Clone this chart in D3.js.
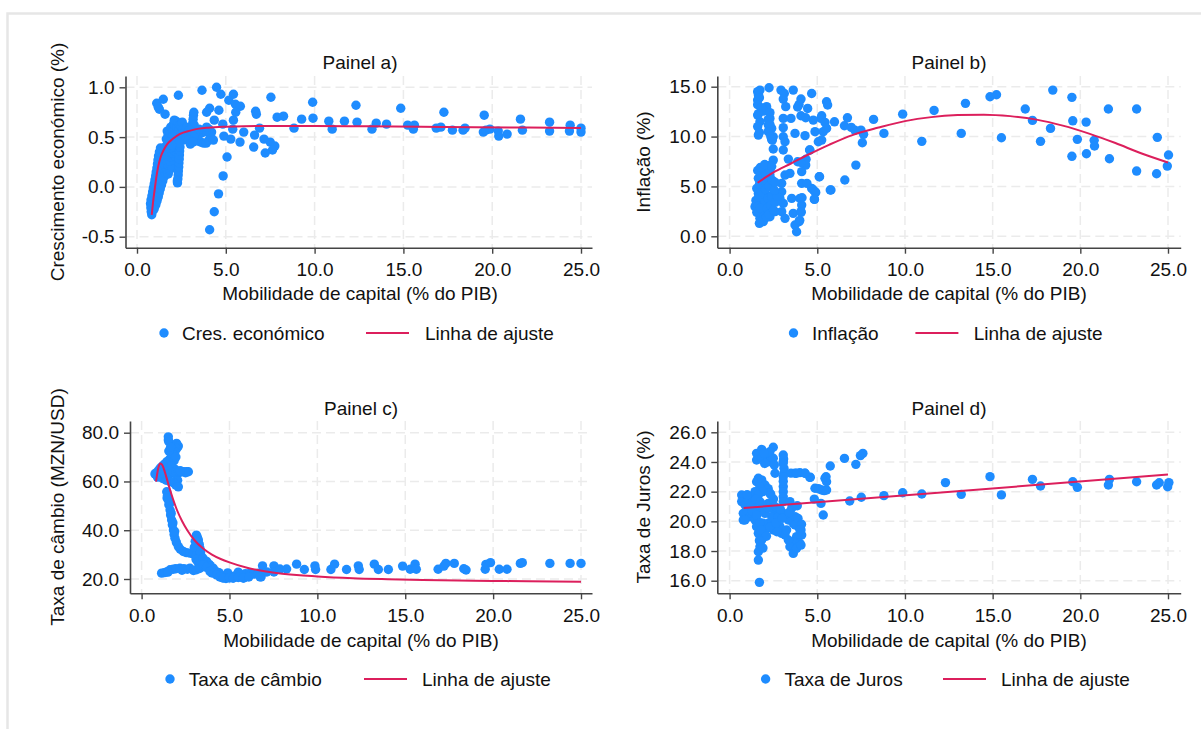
<!DOCTYPE html>
<html lang="pt">
<head>
<meta charset="UTF-8">
<title>Mobilidade de capital</title>
<script src="https://d3js.org/d3.v7.min.js"></script>
<style>
  body { margin: 0; background: #fff; }
  text { font-family: "Liberation Sans", Arial, sans-serif; fill: #111; }
</style>
</head>
<body>
<div id="chart"></div>
<script>
// Shared axis ticks
const xTicks = [0, 5, 10, 15, 20, 25];
const xLabel = "Mobilidade de capital (% do PIB)";
const fitLabel = "Linha de ajuste";

// Painel a) - crescimento económico
const ptsA = [
  [0.83,-0.28],[0.80,-0.25],[0.89,-0.24],[0.78,-0.21],[0.87,-0.20],[0.97,-0.22],[0.76,-0.17],[0.85,-0.16],
  [0.95,-0.17],[1.06,-0.18],[0.79,-0.13],[0.91,-0.12],[1.02,-0.13],[1.13,-0.14],[0.84,-0.09],[0.96,-0.08],
  [1.08,-0.09],[1.20,-0.10],[0.88,-0.05],[1.00,-0.04],[1.12,-0.05],[1.25,-0.06],[0.92,-0.01],[1.05,0.00],
  [1.18,-0.01],[1.31,-0.02],[0.97,0.03],[1.10,0.04],[1.24,0.03],[1.38,0.02],[1.01,0.07],[1.15,0.08],
  [1.30,0.07],[1.45,0.06],[1.05,0.11],[1.20,0.12],[1.36,0.11],[1.52,0.10],[1.08,0.15],[1.25,0.16],
  [1.42,0.15],[1.60,0.14],[1.76,0.13],[1.12,0.19],[1.30,0.20],[1.48,0.19],[1.67,0.18],[1.84,0.17],
  [1.15,0.23],[1.35,0.24],[1.55,0.23],[1.75,0.22],[1.94,0.21],[1.18,0.27],[1.40,0.28],[1.62,0.27],
  [1.84,0.26],[2.05,0.27],[1.21,0.31],[1.45,0.32],[1.70,0.31],[1.92,0.30],[2.12,0.31],[1.26,0.35],
  [1.52,0.36],[1.78,0.35],[2.00,0.34],[2.14,0.36],[1.32,0.39],[1.58,0.40],[1.85,0.39],[2.08,0.40],
  [2.28,0.04],[2.30,0.08],[2.32,0.12],[2.33,0.16],[2.35,0.20],[2.36,0.24],[2.38,0.28],[2.39,0.32],
  [2.40,0.36],[2.42,0.40],[2.27,0.06],
  [3.05,0.47],[3.08,0.52],[3.10,0.56],[3.12,0.60],[3.14,0.64],[3.16,0.68],[3.18,0.72],[3.20,0.75],
  [3.02,0.50],[3.22,0.62],
  [1.65,0.48],[1.75,0.52],[1.70,0.56],[1.85,0.55],[1.90,0.60],[2.00,0.58],[2.05,0.63],[2.10,0.67],
  [2.15,0.62],[2.20,0.66],[2.25,0.60],[2.30,0.64],[2.35,0.57],[2.40,0.62],[2.50,0.60],[2.55,0.65],
  [2.60,0.58],[2.70,0.55],[2.80,0.60],[2.85,0.53],[2.95,0.57],[2.20,0.52],[2.00,0.50],[2.45,0.50],
  [2.60,0.47],[2.75,0.48],[1.80,0.45],[2.15,0.45],[2.35,0.44],[1.95,0.42],
  [3.30,0.48],[3.45,0.46],[3.60,0.45],[3.75,0.44],[3.90,0.44],[4.05,0.47],[4.15,0.51],[4.20,0.55],
  [4.05,0.58],[3.90,0.56],[3.75,0.55],[3.60,0.54],[3.45,0.52],[3.30,0.55],[3.20,0.50],[3.50,0.58],
  [2.90,0.47],[3.00,0.43],[3.15,0.45],[4.30,0.47],
  [1.11,0.84],[1.48,0.88],[2.33,0.92],[1.26,0.78],[1.58,0.73],[1.20,0.80],
  [3.66,0.97],[4.48,1.00],[4.72,0.93],[5.43,0.93],[5.17,0.87],[5.54,0.83],[5.82,0.81],[7.54,0.90],
  [4.09,0.79],[4.61,0.77],[3.92,0.75],[5.56,0.75],[6.68,0.76],[6.72,0.73],[4.35,0.67],[5.43,0.67],
  [4.83,0.63],[3.92,0.60],[5.39,0.58],[6.90,0.59],[6.01,0.55],[4.89,0.51],[5.28,0.48],[6.62,0.52],
  [7.15,0.48],[7.50,0.45],[7.76,0.41],[7.63,0.37],[5.80,0.45],[6.57,0.40],[7.22,0.34],[5.07,0.30],
  [4.85,0.11],[4.59,-0.07],[4.35,-0.25],[4.09,-0.43],[7.89,0.70],[8.25,0.71],[8.84,0.59],[9.27,0.68],
  [9.89,0.85],[9.91,0.69],[10.80,0.66],[10.99,0.58],[11.68,0.66],[12.33,0.82],[12.39,0.65],[13.23,0.58],
  [13.47,0.64],[14.05,0.63],[14.85,0.79],[15.24,0.62],[15.56,0.58],[15.62,0.62],[16.85,0.59],[17.11,0.60],
  [17.28,0.75],[17.76,0.57],[18.36,0.57],[18.47,0.59],[19.55,0.72],[19.50,0.55],[19.65,0.57],[19.87,0.58],
  [20.34,0.56],[20.37,0.51],[20.84,0.53],[21.59,0.68],[21.70,0.57],[23.23,0.65],[23.23,0.56],[24.39,0.62],
  [24.35,0.56],[25.00,0.59],[25.00,0.55]
];
const fitA = [
  [0.83,-0.28],[0.90,-0.16],[1.00,-0.02],[1.10,0.11],[1.20,0.21],[1.35,0.31],[1.50,0.37],[1.70,0.43],
  [2.00,0.48],[2.40,0.53],[3.00,0.565],[3.50,0.585],[4.00,0.595],[5.00,0.605],[6.00,0.61],[8.00,0.612],
  [10.0,0.612],[13.0,0.608],[16.0,0.604],[19.0,0.60],[22.0,0.596],[25.0,0.592]
];
const yTicksA = [-0.5, 0, 0.5, 1.0];

// Painel b) - inflação
const ptsB = [
  [1.73,14.66],[2.25,14.89],[1.64,14.16],[1.60,13.66],[2.93,14.66],[3.12,14.32],[3.63,14.66],[4.68,14.32],
  [3.06,13.76],[4.07,13.76],[3.96,13.22],[3.88,12.96],[4.45,12.82],[5.53,13.49],[5.59,13.16],[3.20,13.00],
  [2.11,13.00],[1.83,12.82],[1.98,12.56],[1.60,12.15],[2.30,11.82],[3.06,11.82],[3.50,11.82],[4.07,12.09],
  [4.34,11.89],[5.25,12.09],[5.21,11.82],[4.77,11.65],[5.44,11.42],[1.73,11.49],[2.21,11.15],[2.40,10.82],
  [3.06,10.89],[3.73,10.32],[4.30,10.09],[4.87,10.49],[5.34,10.49],[5.53,10.82],[1.64,10.15],[2.49,9.98],
  [3.06,9.98],[2.44,9.65],[3.16,9.48],[5.25,9.65],[5.06,9.48],[4.58,8.65],[3.06,8.65],[2.49,8.75],
  [3.35,7.74],[3.88,7.48],[4.30,7.64],[4.34,7.14],[4.11,6.48],[2.49,7.64],[2.21,7.08],[2.02,6.81],
  [1.73,6.41],[2.30,6.14],[1.64,5.81],[2.02,5.47],[2.40,5.14],[2.97,5.31],[3.16,6.14],[3.44,6.31],
  [4.11,5.31],[4.68,4.80],[4.87,4.47],[5.11,5.97],[5.78,4.64],[1.83,4.80],[1.64,4.30],[2.11,4.14],
  [1.83,3.63],[1.54,3.30],[2.02,3.13],[1.64,2.63],[2.21,2.47],[1.83,2.13],[1.92,1.47],[2.97,4.47],
  [2.87,3.80],[3.06,3.30],[2.97,2.47],[3.16,1.80],[3.54,3.80],[4.01,3.80],[4.11,3.13],[3.63,2.30],
  [4.07,2.47],[3.73,1.13],[3.82,0.46],[3.96,1.47],[4.83,3.73],[2.49,3.80],[2.59,2.47],[1.45,2.97],
  [1.73,1.80],[2.30,1.96],
  [1.55,4.80],[1.70,5.20],[1.90,5.60],[2.10,6.00],[2.30,6.60],[1.60,6.60],[1.75,6.90],[2.00,7.20],
  [2.40,7.00],[1.50,3.60],[1.65,3.90],[1.85,4.40],[2.05,4.70],[2.25,5.00],[2.45,5.60],[1.60,3.00],
  [1.80,2.60],[2.00,3.40],[2.20,3.80],[2.40,4.00],[1.55,2.40],[1.75,2.80],[1.95,2.00],[2.15,2.80],
  [2.35,3.10],[1.70,1.30],[1.90,1.60],[2.10,1.90],[2.25,2.20],[2.50,2.60],[2.60,3.40],[2.70,4.00],
  [2.55,4.60],[2.60,5.40],
  [1.60,14.50],[1.70,13.90],[1.60,13.20],[1.80,12.90],[1.65,12.30],[1.60,11.00],[1.70,10.40],[2.30,12.40],
  [2.20,11.70],[2.30,11.20],[2.20,10.50],[2.35,10.00],[2.40,9.70],
  [4.78,4.64],[4.91,4.40],[4.41,5.31],[4.13,3.87],[4.08,2.40],[4.00,1.60],[4.84,3.70],[5.74,4.64],
  [5.13,5.97],[4.56,8.65],[4.36,7.72],[4.07,7.40],
  [5.98,11.48],[6.72,11.88],[6.55,11.08],[6.94,10.92],[7.14,10.65],[7.49,10.65],[7.64,10.22],[7.57,9.38],
  [7.20,7.14],[6.57,5.64],[8.21,11.72],[8.80,10.32],[9.87,12.25],[10.96,9.52],[11.66,12.62],[13.45,13.33],
  [13.21,10.32],[14.85,13.99],[15.22,14.19],[15.50,9.88],[16.86,12.76],[17.27,11.62],[17.73,9.52],[18.30,10.82],
  [18.43,14.66],[19.52,13.93],[19.57,11.58],[19.52,8.02],[19.83,9.72],[20.33,11.45],[20.35,8.28],[20.79,9.62],
  [20.81,9.05],[21.60,12.76],[21.66,7.78],[23.21,12.76],[23.21,6.54],[24.39,9.92],[24.35,6.27],[25.03,8.15],
  [24.96,7.04]
];
const fitB = [
  [1.6,5.37],[2.5,6.4],[3.5,7.3],[4.5,8.2],[5.7,9.2],[7.0,10.15],[8.5,10.9],[10.0,11.55],[11.5,11.95],
  [13.0,12.15],[14.5,12.2],[16.0,12.05],[17.5,11.7],[19.0,11.1],[20.5,10.3],[22.0,9.35],[23.5,8.3],[25.0,7.4]
];
const yTicksB = [0, 5, 10, 15];

// Painel c) - taxa de câmbio
const ptsC = [
  [1.52,78.3],[1.52,77.0],[1.55,76.3],[1.99,75.6],[2.09,74.5],[2.00,73.5],[1.90,72.2],[1.80,71.0],
  [1.71,70.2],[1.60,69.2],[1.43,68.1],[1.35,67.3],[1.24,66.7],[1.15,66.0],[1.05,65.4],[0.95,64.4],
  [0.85,63.6],[0.76,63.1],[1.55,72.5],[1.65,74.0],[1.85,68.5],[1.95,70.0],[1.30,64.8],[1.10,62.5],
  [0.90,61.8],[1.20,61.2],[1.40,62.0],[1.60,63.0],[1.75,64.5],[1.50,65.5],[1.70,66.5],[1.90,65.0],
  [2.00,62.5],[2.05,60.5],[1.95,58.5],[1.80,59.5],[1.60,60.0],[1.40,60.5],[1.30,63.2],[2.09,57.8],
  [1.15,63.6],[1.80,64.0],[1.95,64.1],[2.10,64.0],[2.25,63.9],[2.40,64.0],[2.55,64.0],[2.66,64.0],
  [2.50,63.6],[2.20,64.4],
  [1.43,55.8],[1.47,54.2],[1.52,52.4],[1.55,50.5],[1.62,48.3],[1.65,46.2],[1.71,44.2],[1.75,42.2],
  [1.81,40.1],[1.85,38.3],[1.90,36.7],[1.98,35.0],[2.09,33.3],[2.20,32.2],[2.37,31.3],[2.55,30.8],
  [2.75,30.6],[2.95,30.2],[3.12,29.9],[3.30,29.5],[3.40,29.2],[1.60,51.0],[1.68,47.0],[1.78,43.0],
  [1.88,39.5],[1.45,53.2],
  [3.12,38.0],[3.18,37.0],[3.23,36.0],[3.28,34.2],[3.32,32.6],[3.05,35.5],[3.00,33.0],[3.35,31.0],
  [3.10,28.0],[3.20,27.0],
  [3.50,28.5],[3.70,27.2],[3.85,26.0],[4.08,24.4],[4.25,23.0],[4.46,21.7],[4.70,21.2],[5.03,21.0],
  [5.30,21.3],[5.60,21.7],[5.90,22.2],[6.17,22.4],[6.40,22.0],[6.64,22.4],[4.90,22.5],[5.50,22.8],
  [4.40,22.6],[4.60,20.5],[5.20,20.4],[5.80,20.4],[6.00,21.0],[4.00,22.5],[3.90,25.5],[3.60,25.0],
  [3.30,25.8],[6.80,20.9],[4.80,20.2],
  [1.14,22.4],[1.30,22.6],[1.45,23.0],[1.62,23.8],[1.80,24.0],[1.95,24.2],[2.18,24.4],[2.40,24.2],
  [2.60,24.0],[2.75,24.4],[2.95,23.5],[3.12,23.8],[3.30,24.3],[3.51,25.8],[3.70,24.8],[3.89,23.1],
  [4.10,22.4],[4.27,21.7],[4.45,20.8],[4.65,20.4],[5.00,20.4],[5.22,20.4],[5.50,20.6],[5.79,20.4],
  [6.10,20.8],[2.30,23.6],[1.50,22.8],
  [6.88,25.4],[7.12,22.9],[7.53,25.4],[7.53,22.9],[7.87,24.1],[8.25,24.1],[8.82,26.1],[9.26,23.9],
  [9.86,25.4],[9.90,23.9],[10.77,23.9],[10.98,26.1],[11.66,23.9],[12.33,25.4],[12.38,23.9],[13.24,26.1],
  [13.47,23.9],[14.04,23.9],[14.85,25.3],[15.28,24.0],[15.56,26.1],[15.63,24.0],[16.87,24.0],[17.20,25.3],
  [17.31,26.4],[17.79,26.4],[18.33,24.2],[18.46,23.7],[19.55,24.0],[19.59,26.0],[19.85,26.7],[20.35,24.0],
  [20.79,24.0],[21.55,26.4],[21.66,26.7],[23.23,26.4],[24.38,26.4],[25.00,26.4],[6.74,20.9]
];
const fitC = [
  [0.82,59.9],[0.95,65.5],[1.05,67.4],[1.15,67.0],[1.25,65.5],[1.40,62.0],[1.60,57.0],[1.80,52.5],
  [2.00,48.5],[2.30,43.8],[2.60,40.0],[3.00,36.0],[3.50,32.5],[4.00,30.0],[4.50,28.2],[5.00,26.8],
  [6.00,24.6],[7.00,23.2],[8.00,22.2],[9.00,21.5],[10.0,21.0],[12.0,20.3],[14.0,19.9],[16.0,19.6],
  [18.0,19.4],[20.0,19.2],[22.0,19.05],[25.0,18.9]
];
const yTicksC = [20, 40, 60, 80];

// Painel d) - taxa de juros
const ptsD = [
  [1.54,24.58],[1.83,24.85],[1.54,24.13],[2.11,24.40],[2.49,24.99],[2.30,24.70],[2.21,24.02],[2.49,24.25],
  [2.55,23.80],[2.59,23.24],[3.06,24.47],[3.06,24.02],[3.10,23.58],[3.10,23.24],[1.83,24.25],[1.95,24.60],
  [2.00,23.90],[3.08,24.20],[3.05,23.90],
  [1.64,22.90],[1.54,22.67],[1.83,22.79],[2.02,22.45],[2.11,22.11],[1.73,22.34],[3.06,22.34],[3.06,22.00],
  [3.06,21.66],[3.06,21.33],[3.73,23.24],[4.01,23.28],[4.30,23.24],[4.58,22.96],[3.50,23.25],[2.20,22.20],
  [2.30,21.90],[1.90,22.00],[3.06,22.70],[3.06,23.00],
  [0.69,21.77],[0.69,21.33],[0.88,21.10],[0.78,20.54],[0.78,20.09],[0.97,20.76],[1.07,21.44],[1.26,21.66],
  [1.45,22.00],[1.64,21.77],[1.35,21.21],[1.16,20.32],[0.88,20.09],[1.45,20.09],[1.64,20.65],[1.20,21.00],
  [1.50,21.50],[1.00,21.80],[1.75,21.30],[1.90,21.00],[2.00,20.80],[2.20,21.20],[2.40,20.90],[2.60,20.60],
  [2.50,21.50],[2.35,21.80],[1.30,20.70],[1.55,20.40],
  [1.54,19.64],[1.64,19.19],[1.83,18.74],[1.73,18.29],[1.64,17.95],[2.02,19.42],[2.21,19.87],[2.40,20.32],
  [2.49,19.42],[2.59,20.99],[2.78,20.32],[2.87,19.64],[2.97,19.19],[3.16,19.08],[2.02,20.54],[2.21,20.88],
  [1.83,21.10],[1.92,19.87],[1.64,17.39],[1.70,15.89],[1.75,19.90],[1.80,19.40],[2.10,19.00],[2.30,19.60],
  [2.65,19.90],[2.70,19.30],[1.90,18.20],[1.70,18.70],
  [3.35,20.09],[3.63,19.87],[3.73,20.32],[3.92,19.64],[4.07,19.42],[4.11,19.08],[3.82,18.97],[3.63,18.63],
  [3.44,18.29],[3.63,17.84],[3.82,18.18],[4.01,18.52],[3.35,18.74],[3.25,19.42],[3.54,20.88],[3.44,21.33],
  [3.73,19.76],[3.90,20.20],[4.10,19.80],[3.20,20.50],[2.90,20.80],[3.00,20.20],[3.40,20.60],[3.86,21.05],
  [4.01,19.42],[4.07,18.40],
  [4.83,21.50],[5.21,21.21],[5.34,20.43],[4.87,22.23],[5.25,22.11],[5.53,22.11],[5.44,22.90],[5.53,22.67],
  [5.74,23.73],[5.50,23.00],[4.60,22.97],[4.30,23.24],[3.82,23.24],[5.39,22.07],[5.07,22.20],
  [6.55,24.24],[7.20,23.84],[7.46,24.43],[7.60,24.58],[6.85,21.37],[7.51,21.62],[8.80,21.73],[9.87,21.93],
  [10.96,21.84],[12.31,22.61],[13.21,21.82],[14.85,23.01],[15.50,21.78],[17.27,22.83],[17.73,22.38],[19.57,22.67],
  [19.83,22.29],[21.60,22.45],[21.66,22.83],[23.21,22.67],[24.35,22.45],[24.50,22.60],[24.98,22.33],[25.05,22.61]
];
const fitD = [[0.8,20.9],[25.0,23.15]];
const yTicksD = [16, 18, 20, 22, 24, 26];

const titles = ["Painel a)", "Painel b)", "Painel c)", "Painel d)"];
const yLabels = ["Crescimento económico (%)", "Inflação (%)", "Taxa de câmbio (MZN/USD)", "Taxa de Juros (%)"];
const seriesLabels = ["Cres. económico", "Inflação", "Taxa de câmbio", "Taxa de Juros"];

// Layout of each panel (pixels)
const layout = [
  { left: 125.5, right: 592, top: 76, bottom: 247.7, x0: 137, x25: 581, yA: [-0.5, 236.7], yB: [1.0, 87.3],
    cx: 360, titleY: 69, xlabY: 300, ylabX: 63.5, ylabY: 162, legY: 333, mk: 164, t1: 182, l1: 366, l2: 409, t2: 425 },
  { left: 717.3, right: 1180.7, top: 76, bottom: 247.7, x0: 729.6, x25: 1168, yA: [0, 236.3], yB: [15, 86.7],
    cx: 949, titleY: 69, xlabY: 300, ylabX: 650, ylabY: 162, legY: 333, mk: 793.5, t1: 812, l1: 915.4, l2: 958.4, t2: 973.7 },
  { left: 130, right: 592, top: 421, bottom: 593.3, x0: 141.6, x25: 581, yA: [20, 579], yB: [80, 432.7],
    cx: 361, titleY: 415, xlabY: 646.5, ylabX: 64, ylabY: 507, legY: 679, mk: 170, t1: 188.7, l1: 364, l2: 407, t2: 422 },
  { left: 717.3, right: 1180.7, top: 421, bottom: 593.3, x0: 729.6, x25: 1168, yA: [16, 580.7], yB: [26, 432.3],
    cx: 949, titleY: 415, xlabY: 646.5, ylabX: 650, ylabY: 507, legY: 679, mk: 765.6, t1: 784.4, l1: 943, l2: 986, t2: 1001 }
];

const panels = [
  { pts: ptsA, fit: fitA, yTicks: yTicksA },
  { pts: ptsB, fit: fitB, yTicks: yTicksB },
  { pts: ptsC, fit: fitC, yTicks: yTicksC },
  { pts: ptsD, fit: fitD, yTicks: yTicksD }
];

const dotColor = "#1e8cff";
const fitColor = "#dc1f5c";
const gridColor = "#ebebeb";
const axisColor = "#444";
const fontSize = "19px";

const svg = d3.select("#chart").append("svg")
  .attr("width", 1201)
  .attr("height", 729);

svg.append("rect")
  .attr("x", 7.5).attr("y", 13.5)
  .attr("width", 1205).attr("height", 730)
  .attr("fill", "none")
  .attr("stroke", "#e6e6e6")
  .attr("stroke-width", 2.5);

// scale stretched so the axis line runs past the outer ticks
function extScale(d0, d1, r0, r1, e0, e1) {
  const s = d3.scaleLinear().domain([d0, d1]).range([r0, r1]);
  return d3.scaleLinear().domain([s.invert(e0), s.invert(e1)]).range([e0, e1]);
}

panels.forEach((p, i) => {
  const L = layout[i];
  const x = extScale(0, 25, L.x0, L.x25, L.left, L.right);
  const y = extScale(L.yA[0], L.yB[0], L.yA[1], L.yB[1], L.bottom, L.top);
  const g = svg.append("g");

  // dashed grid
  g.selectAll(".hg").data(p.yTicks).enter().append("line")
    .attr("x1", L.left).attr("x2", L.right)
    .attr("y1", d => y(d)).attr("y2", d => y(d))
    .attr("stroke", gridColor).attr("stroke-width", 1.5)
    .attr("stroke-dasharray", "9,5");
  g.selectAll(".vg").data(xTicks).enter().append("line")
    .attr("y1", L.top).attr("y2", L.bottom)
    .attr("x1", d => x(d)).attr("x2", d => x(d))
    .attr("stroke", gridColor).attr("stroke-width", 1.5)
    .attr("stroke-dasharray", "9,5");

  // points
  g.selectAll("circle.pt").data(p.pts).enter().append("circle")
    .attr("cx", d => x(d[0]))
    .attr("cy", d => y(d[1]))
    .attr("r", 4.7)
    .attr("fill", dotColor);

  // fitted line
  g.append("path")
    .datum(p.fit)
    .attr("fill", "none")
    .attr("stroke", fitColor)
    .attr("stroke-width", 2)
    .attr("d", d3.line().x(d => x(d[0])).y(d => y(d[1])).curve(d3.curveMonotoneX));

  // axes
  const xAxis = g.append("g")
    .attr("transform", `translate(0,${L.bottom})`)
    .call(d3.axisBottom(x).tickValues(xTicks).tickFormat(d => d.toFixed(1))
      .tickSize(6).tickSizeOuter(0).tickPadding(9));
  const yAxis = g.append("g")
    .attr("transform", `translate(${L.left},0)`)
    .call(d3.axisLeft(y).tickValues(p.yTicks).tickFormat(d => d.toFixed(1))
      .tickSize(6).tickSizeOuter(0).tickPadding(5));
  [xAxis, yAxis].forEach(a => {
    a.select(".domain").attr("stroke", axisColor).attr("stroke-width", 1.6);
    a.selectAll(".tick line").attr("stroke", axisColor).attr("stroke-width", 1.4);
    a.selectAll(".tick text").style("font-size", fontSize)
      .style("font-family", '"Liberation Sans", Arial, sans-serif').attr("fill", "#111");
  });

  // titles
  g.append("text").attr("x", L.cx).attr("y", L.titleY)
    .attr("text-anchor", "middle").style("font-size", fontSize).text(titles[i]);
  g.append("text").attr("x", L.cx).attr("y", L.xlabY)
    .attr("text-anchor", "middle").style("font-size", fontSize).text(xLabel);
  g.append("text")
    .attr("transform", `translate(${L.ylabX},${L.ylabY}) rotate(-90)`)
    .attr("text-anchor", "middle").style("font-size", fontSize).text(yLabels[i]);

  // legend
  g.append("circle").attr("cx", L.mk).attr("cy", L.legY).attr("r", 4.7).attr("fill", dotColor);
  g.append("text").attr("x", L.t1).attr("y", L.legY + 6.5)
    .style("font-size", fontSize).text(seriesLabels[i]);
  g.append("line").attr("x1", L.l1).attr("x2", L.l2).attr("y1", L.legY).attr("y2", L.legY)
    .attr("stroke", fitColor).attr("stroke-width", 2);
  g.append("text").attr("x", L.t2).attr("y", L.legY + 6.5)
    .style("font-size", fontSize).text(fitLabel);
});
</script>
</body>
</html>
